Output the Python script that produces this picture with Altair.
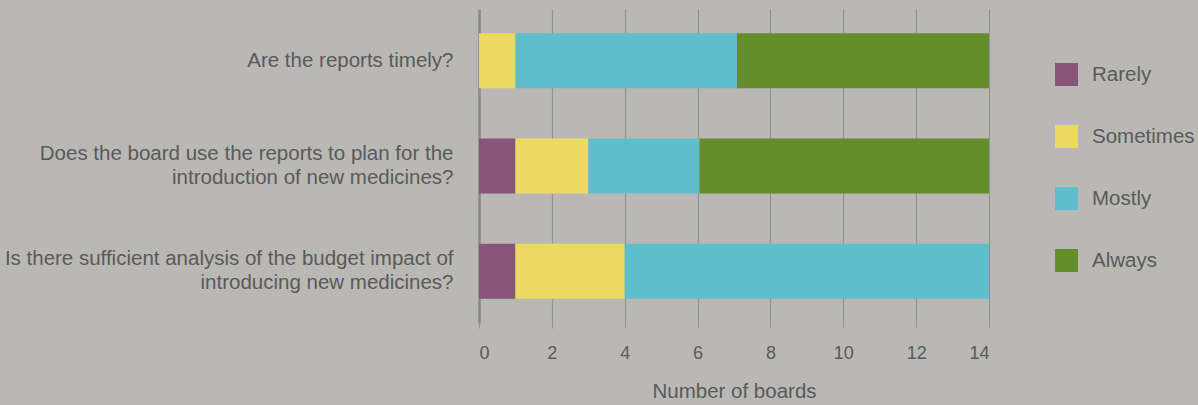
import altair as alt
import pandas as pd

# Survey questions, top to bottom; "|" marks a line break in the axis label
questions = [
    "Are the reports timely?",
    "Does the board use the reports to plan for the|introduction of new medicines?",
    "Is there sufficient analysis of the budget impact of|introducing new medicines?",
]
responses = ["Rarely", "Sometimes", "Mostly", "Always"]
colors = ["#87547a", "#ecd960", "#5fbecc", "#648e2b"]

# Number of boards giving each response, per question
rarely = [0, 1, 1]
sometimes = [1, 2, 3]
mostly = [6.08, 3.05, 10]
always = [6.92, 7.95, 0]

rows = []
for qi, q in enumerate(questions):
    for ri, (r, vals) in enumerate(zip(responses, [rarely, sometimes, mostly, always])):
        rows.append({"question": q, "response": r, "boards": vals[qi], "order": ri})
df = pd.DataFrame(rows)

font = "Liberation Sans"
text_color = "#5a5a5a"
grid_color = "#939393"
line_height = 24

chart = (
    alt.Chart(df)
    .mark_bar(size=55)
    .encode(
        x=alt.X(
            "boards:Q",
            stack="zero",
            scale=alt.Scale(domain=[0, 14], nice=False),
            axis=alt.Axis(
                title="Number of boards",
                values=[0, 2, 4, 6, 8, 10, 12, 14],
                grid=True,
                gridColor=grid_color,
                gridWidth=1.2,
                domain=False,
                ticks=True,
                tickColor=grid_color,
                tickSize=5,
                labelFontSize=18,
                labelColor=text_color,
                labelFont=font,
                labelPadding=16,
                titleFontSize=20.5,
                titleFont=font,
                titleFontWeight="normal",
                titleColor=text_color,
                titlePadding=19,
            ),
        ),
        y=alt.Y(
            "question:N",
            sort=questions,
            scale=alt.Scale(paddingInner=0.48, paddingOuter=0.23),
            axis=alt.Axis(
                title=None,
                labelExpr="split(datum.label, '|')",
                labelFontSize=20.5,
                labelFont=font,
                labelColor=text_color,
                labelLineHeight=line_height,
                # centre two-line labels on their bar
                labelOffset={
                    "condition": {
                        "test": "indexof(datum.value, '|') >= 0",
                        "value": -line_height / 2,
                    },
                    "value": 0,
                },
                labelPadding=26,
                labelLimit=700,
                ticks=False,
                domain=True,
                domainColor="#8a8a8a",
                domainWidth=2.5,
            ),
        ),
        color=alt.Color(
            "response:N",
            scale=alt.Scale(domain=responses, range=colors),
            legend=alt.Legend(
                title=None,
                orient="none",
                legendX=576,
                legendY=54,
                symbolType="square",
                symbolSize=529,
                symbolStrokeWidth=0,
                symbolOpacity=1,
                rowPadding=39,
                labelFontSize=20.5,
                labelFont=font,
                labelColor=text_color,
                labelOffset=14,
                labelLimit=300,
            ),
        ),
        order=alt.Order("order:Q"),
    )
    .properties(
        width=510,
        height=314,
        background="#b9b8b4",
        padding={"left": 479, "top": 9, "right": 209, "bottom": 82},
        autosize=alt.AutoSizeParams(type="none"),
    )
    .configure_view(stroke=None)
)

chart.save("out.html", embed_options={"renderer": "svg", "actions": False})
